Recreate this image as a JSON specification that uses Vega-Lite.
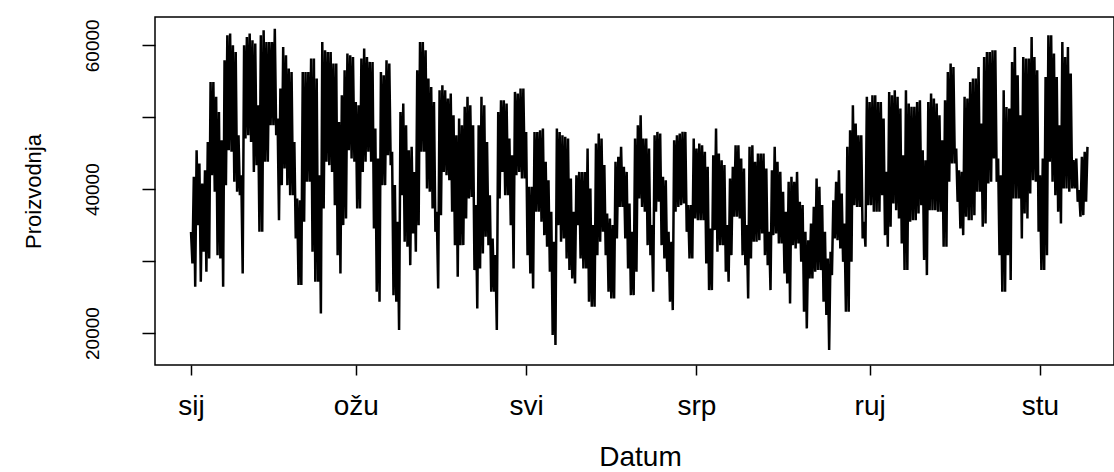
{
  "$schema": "https://vega.github.io/schema/vega-lite/v6.json",
  "width": 959,
  "height": 348,
  "autosize": "none",
  "padding": {"left": 155, "top": 17, "right": 0, "bottom": 107},
  "background": "white",
  "config": {
    "font": "Liberation Sans",
    "view": {"stroke": "black", "strokeWidth": 1.5}
  },
  "data": {
    "values": [
      {"dan":0,"proizvodnja":34070},{"dan":0.5,"proizvodnja":29670},
      {"dan":1,"proizvodnja":41710},{"dan":1.5,"proizvodnja":26430},
      {"dan":2,"proizvodnja":45420},{"dan":2.5,"proizvodnja":35000},
      {"dan":3,"proizvodnja":43570},{"dan":3.5,"proizvodnja":27130},
      {"dan":4,"proizvodnja":40790},{"dan":4.5,"proizvodnja":31300},
      {"dan":5,"proizvodnja":42640},{"dan":5.5,"proizvodnja":28520},
      {"dan":6,"proizvodnja":46570},{"dan":6.5,"proizvodnja":30370},
      {"dan":7,"proizvodnja":54910},{"dan":7.5,"proizvodnja":41940},
      {"dan":8,"proizvodnja":54910},{"dan":8.5,"proizvodnja":39630},
      {"dan":9,"proizvodnja":52830},{"dan":9.5,"proizvodnja":30830},
      {"dan":10,"proizvodnja":50740},{"dan":10.5,"proizvodnja":30370},
      {"dan":11,"proizvodnja":46800},{"dan":11.5,"proizvodnja":26430},
      {"dan":12,"proizvodnja":57920},{"dan":12.5,"proizvodnja":40560},
      {"dan":13,"proizvodnja":61390},{"dan":13.5,"proizvodnja":45420},
      {"dan":14,"proizvodnja":61620},{"dan":14.5,"proizvodnja":45190},
      {"dan":15,"proizvodnja":60000},{"dan":15.5,"proizvodnja":41020},
      {"dan":16,"proizvodnja":59080},{"dan":16.5,"proizvodnja":39630},
      {"dan":17,"proizvodnja":47500},{"dan":17.5,"proizvodnja":39160},
      {"dan":18,"proizvodnja":41940},{"dan":18.5,"proizvodnja":28290},
      {"dan":19,"proizvodnja":60000},{"dan":19.5,"proizvodnja":47030},
      {"dan":20,"proizvodnja":61160},{"dan":20.5,"proizvodnja":47500},
      {"dan":21,"proizvodnja":61620},{"dan":21.5,"proizvodnja":46570},
      {"dan":22,"proizvodnja":60690},{"dan":22.5,"proizvodnja":42400},
      {"dan":23,"proizvodnja":60230},{"dan":23.5,"proizvodnja":43340},
      {"dan":24,"proizvodnja":51670},{"dan":24.5,"proizvodnja":34070},
      {"dan":25,"proizvodnja":61390},{"dan":25.5,"proizvodnja":34070},
      {"dan":26,"proizvodnja":62080},{"dan":26.5,"proizvodnja":43800},
      {"dan":27,"proizvodnja":60460},{"dan":27.5,"proizvodnja":43800},
      {"dan":28,"proizvodnja":60460},{"dan":28.5,"proizvodnja":48890},
      {"dan":29,"proizvodnja":60460},{"dan":29.5,"proizvodnja":48890},
      {"dan":30,"proizvodnja":62310},{"dan":30.5,"proizvodnja":47500},
      {"dan":31,"proizvodnja":49810},{"dan":31.5,"proizvodnja":35690},
      {"dan":32,"proizvodnja":53980},{"dan":32.5,"proizvodnja":40560},
      {"dan":33,"proizvodnja":59770},{"dan":33.5,"proizvodnja":42870},
      {"dan":34,"proizvodnja":58610},{"dan":34.5,"proizvodnja":40560},
      {"dan":35,"proizvodnja":56760},{"dan":35.5,"proizvodnja":39160},
      {"dan":36,"proizvodnja":56300},{"dan":36.5,"proizvodnja":39160},
      {"dan":37,"proizvodnja":46570},{"dan":37.5,"proizvodnja":33150},
      {"dan":38,"proizvodnja":38700},{"dan":38.5,"proizvodnja":26670},
      {"dan":39,"proizvodnja":38470},{"dan":39.5,"proizvodnja":26670},
      {"dan":40,"proizvodnja":56300},{"dan":40.5,"proizvodnja":35460},
      {"dan":41,"proizvodnja":56300},{"dan":41.5,"proizvodnja":41020},
      {"dan":42,"proizvodnja":56300},{"dan":42.5,"proizvodnja":41020},
      {"dan":43,"proizvodnja":58150},{"dan":43.5,"proizvodnja":31300},
      {"dan":44,"proizvodnja":58150},{"dan":44.5,"proizvodnja":27130},
      {"dan":45,"proizvodnja":55370},{"dan":45.5,"proizvodnja":27130},
      {"dan":46,"proizvodnja":41940},{"dan":46.5,"proizvodnja":22730},
      {"dan":47,"proizvodnja":60460},{"dan":47.5,"proizvodnja":37310},
      {"dan":48,"proizvodnja":59310},{"dan":48.5,"proizvodnja":43800},
      {"dan":49,"proizvodnja":59080},{"dan":49.5,"proizvodnja":43340},
      {"dan":50,"proizvodnja":59080},{"dan":50.5,"proizvodnja":42400},
      {"dan":51,"proizvodnja":57460},{"dan":51.5,"proizvodnja":37780},
      {"dan":52,"proizvodnja":57460},{"dan":52.5,"proizvodnja":30830},
      {"dan":53,"proizvodnja":49350},{"dan":53.5,"proizvodnja":28290},
      {"dan":54,"proizvodnja":53060},{"dan":54.5,"proizvodnja":35000},
      {"dan":55,"proizvodnja":56530},{"dan":55.5,"proizvodnja":35930},
      {"dan":56,"proizvodnja":58840},{"dan":56.5,"proizvodnja":45420},
      {"dan":57,"proizvodnja":58610},{"dan":57.5,"proizvodnja":44260},
      {"dan":58,"proizvodnja":58380},{"dan":58.5,"proizvodnja":43800},
      {"dan":59,"proizvodnja":52130},{"dan":59.5,"proizvodnja":37310},
      {"dan":60,"proizvodnja":51670},{"dan":60.5,"proizvodnja":37310},
      {"dan":61,"proizvodnja":58150},{"dan":61.5,"proizvodnja":42400},
      {"dan":62,"proizvodnja":59540},{"dan":62.5,"proizvodnja":43800},
      {"dan":63,"proizvodnja":58380},{"dan":63.5,"proizvodnja":45190},
      {"dan":64,"proizvodnja":57690},{"dan":64.5,"proizvodnja":43800},
      {"dan":65,"proizvodnja":57690},{"dan":65.5,"proizvodnja":34540},
      {"dan":66,"proizvodnja":48430},{"dan":66.5,"proizvodnja":25740},
      {"dan":67,"proizvodnja":44260},{"dan":67.5,"proizvodnja":24350},
      {"dan":68,"proizvodnja":56300},{"dan":68.5,"proizvodnja":40560},
      {"dan":69,"proizvodnja":55830},{"dan":69.5,"proizvodnja":40560},
      {"dan":70,"proizvodnja":57920},{"dan":70.5,"proizvodnja":44720},
      {"dan":71,"proizvodnja":57460},{"dan":71.5,"proizvodnja":43340},
      {"dan":72,"proizvodnja":45190},{"dan":72.5,"proizvodnja":25270},
      {"dan":73,"proizvodnja":40560},{"dan":73.5,"proizvodnja":24350},
      {"dan":74,"proizvodnja":35460},{"dan":74.5,"proizvodnja":20420},
      {"dan":75,"proizvodnja":50740},{"dan":75.5,"proizvodnja":39160},
      {"dan":76,"proizvodnja":51900},{"dan":76.5,"proizvodnja":32680},
      {"dan":77,"proizvodnja":48890},{"dan":77.5,"proizvodnja":31990},
      {"dan":78,"proizvodnja":45420},{"dan":78.5,"proizvodnja":29440},
      {"dan":79,"proizvodnja":45880},{"dan":79.5,"proizvodnja":33840},
      {"dan":80,"proizvodnja":42400},{"dan":80.5,"proizvodnja":31300},
      {"dan":81,"proizvodnja":56530},{"dan":81.5,"proizvodnja":35000},
      {"dan":82,"proizvodnja":60460},{"dan":82.5,"proizvodnja":45190},
      {"dan":83,"proizvodnja":60460},{"dan":83.5,"proizvodnja":45190},
      {"dan":84,"proizvodnja":59310},{"dan":84.5,"proizvodnja":40100},
      {"dan":85,"proizvodnja":55370},{"dan":85.5,"proizvodnja":39630},
      {"dan":86,"proizvodnja":54210},{"dan":86.5,"proizvodnja":37310},
      {"dan":87,"proizvodnja":52130},{"dan":87.5,"proizvodnja":34070},
      {"dan":88,"proizvodnja":36850},{"dan":88.5,"proizvodnja":26200},
      {"dan":89,"proizvodnja":53750},{"dan":89.5,"proizvodnja":36390},
      {"dan":90,"proizvodnja":54440},{"dan":90.5,"proizvodnja":42400},
      {"dan":91,"proizvodnja":53750},{"dan":91.5,"proizvodnja":41940},
      {"dan":92,"proizvodnja":52590},{"dan":92.5,"proizvodnja":41250},
      {"dan":93,"proizvodnja":53290},{"dan":93.5,"proizvodnja":36850},
      {"dan":94,"proizvodnja":50280},{"dan":94.5,"proizvodnja":32220},
      {"dan":95,"proizvodnja":47500},{"dan":95.5,"proizvodnja":27820},
      {"dan":96,"proizvodnja":49810},{"dan":96.5,"proizvodnja":32220},
      {"dan":97,"proizvodnja":48890},{"dan":97.5,"proizvodnja":32220},
      {"dan":98,"proizvodnja":51440},{"dan":98.5,"proizvodnja":35920},
      {"dan":99,"proizvodnja":52830},{"dan":99.5,"proizvodnja":38700},
      {"dan":100,"proizvodnja":51670},{"dan":100.5,"proizvodnja":38930},
      {"dan":101,"proizvodnja":48890},{"dan":101.5,"proizvodnja":28750},
      {"dan":102,"proizvodnja":37780},{"dan":102.5,"proizvodnja":23420},
      {"dan":103,"proizvodnja":48890},{"dan":103.5,"proizvodnja":28980},
      {"dan":104,"proizvodnja":52830},{"dan":104.5,"proizvodnja":31060},
      {"dan":105,"proizvodnja":51670},{"dan":105.5,"proizvodnja":33380},
      {"dan":106,"proizvodnja":46570},{"dan":106.5,"proizvodnja":32220},
      {"dan":107,"proizvodnja":39160},{"dan":107.5,"proizvodnja":25740},
      {"dan":108,"proizvodnja":33150},{"dan":108.5,"proizvodnja":25740},
      {"dan":109,"proizvodnja":30830},{"dan":109.5,"proizvodnja":20420},
      {"dan":110,"proizvodnja":50740},{"dan":110.5,"proizvodnja":38700},
      {"dan":111,"proizvodnja":52360},{"dan":111.5,"proizvodnja":42400},
      {"dan":112,"proizvodnja":52360},{"dan":112.5,"proizvodnja":39160},
      {"dan":113,"proizvodnja":51900},{"dan":113.5,"proizvodnja":39160},
      {"dan":114,"proizvodnja":47030},{"dan":114.5,"proizvodnja":35000},
      {"dan":115,"proizvodnja":44720},{"dan":115.5,"proizvodnja":28980},
      {"dan":116,"proizvodnja":53520},{"dan":116.5,"proizvodnja":41940},
      {"dan":117,"proizvodnja":53290},{"dan":117.5,"proizvodnja":42400},
      {"dan":118,"proizvodnja":53980},{"dan":118.5,"proizvodnja":41480},
      {"dan":119,"proizvodnja":53980},{"dan":119.5,"proizvodnja":41480},
      {"dan":120,"proizvodnja":47960},{"dan":120.5,"proizvodnja":30830},
      {"dan":121,"proizvodnja":40330},{"dan":121.5,"proizvodnja":28290},
      {"dan":122,"proizvodnja":40330},{"dan":122.5,"proizvodnja":26200},
      {"dan":123,"proizvodnja":47960},{"dan":123.5,"proizvodnja":36850},
      {"dan":124,"proizvodnja":47960},{"dan":124.5,"proizvodnja":36850},
      {"dan":125,"proizvodnja":48190},{"dan":125.5,"proizvodnja":35460},
      {"dan":126,"proizvodnja":48430},{"dan":126.5,"proizvodnja":33610},
      {"dan":127,"proizvodnja":43800},{"dan":127.5,"proizvodnja":31990},
      {"dan":128,"proizvodnja":41250},{"dan":128.5,"proizvodnja":28520},
      {"dan":129,"proizvodnja":36850},{"dan":129.5,"proizvodnja":19720},
      {"dan":130,"proizvodnja":32680},{"dan":130.5,"proizvodnja":18330},
      {"dan":131,"proizvodnja":48430},{"dan":131.5,"proizvodnja":35000},
      {"dan":132,"proizvodnja":47960},{"dan":132.5,"proizvodnja":32680},
      {"dan":133,"proizvodnja":47500},{"dan":133.5,"proizvodnja":33150},
      {"dan":134,"proizvodnja":47270},{"dan":134.5,"proizvodnja":30370},
      {"dan":135,"proizvodnja":47030},{"dan":135.5,"proizvodnja":28750},
      {"dan":136,"proizvodnja":41480},{"dan":136.5,"proizvodnja":27590},
      {"dan":137,"proizvodnja":36850},{"dan":137.5,"proizvodnja":26900},
      {"dan":138,"proizvodnja":41940},{"dan":138.5,"proizvodnja":35000},
      {"dan":139,"proizvodnja":42400},{"dan":139.5,"proizvodnja":30370},
      {"dan":140,"proizvodnja":42400},{"dan":140.5,"proizvodnja":28980},
      {"dan":141,"proizvodnja":42400},{"dan":141.5,"proizvodnja":28980},
      {"dan":142,"proizvodnja":45650},{"dan":142.5,"proizvodnja":24350},
      {"dan":143,"proizvodnja":40100},{"dan":143.5,"proizvodnja":23650},
      {"dan":144,"proizvodnja":35000},{"dan":144.5,"proizvodnja":23650},
      {"dan":145,"proizvodnja":46340},{"dan":145.5,"proizvodnja":30830},
      {"dan":146,"proizvodnja":47730},{"dan":146.5,"proizvodnja":32680},
      {"dan":147,"proizvodnja":47030},{"dan":147.5,"proizvodnja":34070},
      {"dan":148,"proizvodnja":43340},{"dan":148.5,"proizvodnja":30830},
      {"dan":149,"proizvodnja":36620},{"dan":149.5,"proizvodnja":25740},
      {"dan":150,"proizvodnja":35920},{"dan":150.5,"proizvodnja":24810},
      {"dan":151,"proizvodnja":35000},{"dan":151.5,"proizvodnja":24810},
      {"dan":152,"proizvodnja":43800},{"dan":152.5,"proizvodnja":33150},
      {"dan":153,"proizvodnja":44490},{"dan":153.5,"proizvodnja":37540},
      {"dan":154,"proizvodnja":45880},{"dan":154.5,"proizvodnja":37540},
      {"dan":155,"proizvodnja":43100},{"dan":155.5,"proizvodnja":33150},
      {"dan":156,"proizvodnja":42400},{"dan":156.5,"proizvodnja":28980},
      {"dan":157,"proizvodnja":38010},{"dan":157.5,"proizvodnja":25270},
      {"dan":158,"proizvodnja":34070},{"dan":158.5,"proizvodnja":25270},
      {"dan":159,"proizvodnja":47030},{"dan":159.5,"proizvodnja":28520},
      {"dan":160,"proizvodnja":48890},{"dan":160.5,"proizvodnja":38700},
      {"dan":161,"proizvodnja":50280},{"dan":161.5,"proizvodnja":37540},
      {"dan":162,"proizvodnja":47030},{"dan":162.5,"proizvodnja":36850},
      {"dan":163,"proizvodnja":47030},{"dan":163.5,"proizvodnja":32220},
      {"dan":164,"proizvodnja":45650},{"dan":164.5,"proizvodnja":30830},
      {"dan":165,"proizvodnja":35000},{"dan":165.5,"proizvodnja":25740},
      {"dan":166,"proizvodnja":47500},{"dan":166.5,"proizvodnja":36850},
      {"dan":167,"proizvodnja":47960},{"dan":167.5,"proizvodnja":38240},
      {"dan":168,"proizvodnja":47730},{"dan":168.5,"proizvodnja":32220},
      {"dan":169,"proizvodnja":41710},{"dan":169.5,"proizvodnja":30370},
      {"dan":170,"proizvodnja":41250},{"dan":170.5,"proizvodnja":28520},
      {"dan":171,"proizvodnja":34070},{"dan":171.5,"proizvodnja":24350},
      {"dan":172,"proizvodnja":32680},{"dan":172.5,"proizvodnja":23190},
      {"dan":173,"proizvodnja":46800},{"dan":173.5,"proizvodnja":36850},
      {"dan":174,"proizvodnja":47500},{"dan":174.5,"proizvodnja":37540},
      {"dan":175,"proizvodnja":47730},{"dan":175.5,"proizvodnja":37780},
      {"dan":176,"proizvodnja":47960},{"dan":176.5,"proizvodnja":38010},
      {"dan":177,"proizvodnja":47960},{"dan":177.5,"proizvodnja":34070},
      {"dan":178,"proizvodnja":37780},{"dan":178.5,"proizvodnja":30370},
      {"dan":179,"proizvodnja":37780},{"dan":179.5,"proizvodnja":30370},
      {"dan":180,"proizvodnja":47030},{"dan":180.5,"proizvodnja":35920},
      {"dan":181,"proizvodnja":45650},{"dan":181.5,"proizvodnja":35690},
      {"dan":182,"proizvodnja":46340},{"dan":182.5,"proizvodnja":35690},
      {"dan":183,"proizvodnja":46110},{"dan":183.5,"proizvodnja":35690},
      {"dan":184,"proizvodnja":45190},{"dan":184.5,"proizvodnja":29670},
      {"dan":185,"proizvodnja":43100},{"dan":185.5,"proizvodnja":25970},
      {"dan":186,"proizvodnja":34540},{"dan":186.5,"proizvodnja":25970},
      {"dan":187,"proizvodnja":44720},{"dan":187.5,"proizvodnja":34310},
      {"dan":188,"proizvodnja":48430},{"dan":188.5,"proizvodnja":31300},
      {"dan":189,"proizvodnja":44950},{"dan":189.5,"proizvodnja":32220},
      {"dan":190,"proizvodnja":44030},{"dan":190.5,"proizvodnja":32220},
      {"dan":191,"proizvodnja":43340},{"dan":191.5,"proizvodnja":28520},
      {"dan":192,"proizvodnja":35000},{"dan":192.5,"proizvodnja":27130},
      {"dan":193,"proizvodnja":41480},{"dan":193.5,"proizvodnja":30830},
      {"dan":194,"proizvodnja":43100},{"dan":194.5,"proizvodnja":36160},
      {"dan":195,"proizvodnja":46110},{"dan":195.5,"proizvodnja":36160},
      {"dan":196,"proizvodnja":46110},{"dan":196.5,"proizvodnja":35920},
      {"dan":197,"proizvodnja":44260},{"dan":197.5,"proizvodnja":30830},
      {"dan":198,"proizvodnja":42870},{"dan":198.5,"proizvodnja":29440},
      {"dan":199,"proizvodnja":35000},{"dan":199.5,"proizvodnja":24810},
      {"dan":200,"proizvodnja":45880},{"dan":200.5,"proizvodnja":30370},
      {"dan":201,"proizvodnja":46110},{"dan":201.5,"proizvodnja":32680},
      {"dan":202,"proizvodnja":43800},{"dan":202.5,"proizvodnja":32680},
      {"dan":203,"proizvodnja":44950},{"dan":203.5,"proizvodnja":32910},
      {"dan":204,"proizvodnja":44950},{"dan":204.5,"proizvodnja":33840},
      {"dan":205,"proizvodnja":44950},{"dan":205.5,"proizvodnja":30830},
      {"dan":206,"proizvodnja":42870},{"dan":206.5,"proizvodnja":29440},
      {"dan":207,"proizvodnja":34070},{"dan":207.5,"proizvodnja":25970},
      {"dan":208,"proizvodnja":42640},{"dan":208.5,"proizvodnja":33610},
      {"dan":209,"proizvodnja":45880},{"dan":209.5,"proizvodnja":33840},
      {"dan":210,"proizvodnja":43800},{"dan":210.5,"proizvodnja":32450},
      {"dan":211,"proizvodnja":42400},{"dan":211.5,"proizvodnja":32450},
      {"dan":212,"proizvodnja":39630},{"dan":212.5,"proizvodnja":28290},
      {"dan":213,"proizvodnja":36850},{"dan":213.5,"proizvodnja":26900},
      {"dan":214,"proizvodnja":41020},{"dan":214.5,"proizvodnja":24120},
      {"dan":215,"proizvodnja":41710},{"dan":215.5,"proizvodnja":32220},
      {"dan":216,"proizvodnja":41020},{"dan":216.5,"proizvodnja":31760},
      {"dan":217,"proizvodnja":42400},{"dan":217.5,"proizvodnja":32450},
      {"dan":218,"proizvodnja":38240},{"dan":218.5,"proizvodnja":29900},
      {"dan":219,"proizvodnja":37780},{"dan":219.5,"proizvodnja":22960},
      {"dan":220,"proizvodnja":34070},{"dan":220.5,"proizvodnja":20650},
      {"dan":221,"proizvodnja":32910},{"dan":221.5,"proizvodnja":27590},
      {"dan":222,"proizvodnja":35230},{"dan":222.5,"proizvodnja":27590},
      {"dan":223,"proizvodnja":37540},{"dan":223.5,"proizvodnja":28520},
      {"dan":224,"proizvodnja":41480},{"dan":224.5,"proizvodnja":28750},
      {"dan":225,"proizvodnja":40330},{"dan":225.5,"proizvodnja":28750},
      {"dan":226,"proizvodnja":37780},{"dan":226.5,"proizvodnja":24350},
      {"dan":227,"proizvodnja":34070},{"dan":227.5,"proizvodnja":22500},
      {"dan":228,"proizvodnja":30370},{"dan":228.5,"proizvodnja":17640},
      {"dan":229,"proizvodnja":31300},{"dan":229.5,"proizvodnja":28050},
      {"dan":230,"proizvodnja":38470},{"dan":230.5,"proizvodnja":33150},
      {"dan":231,"proizvodnja":41020},{"dan":231.5,"proizvodnja":32910},
      {"dan":232,"proizvodnja":42640},{"dan":232.5,"proizvodnja":31760},
      {"dan":233,"proizvodnja":39400},{"dan":233.5,"proizvodnja":29900},
      {"dan":234,"proizvodnja":35230},{"dan":234.5,"proizvodnja":22960},
      {"dan":235,"proizvodnja":45880},{"dan":235.5,"proizvodnja":22960},
      {"dan":236,"proizvodnja":48190},{"dan":236.5,"proizvodnja":29900},
      {"dan":237,"proizvodnja":51670},{"dan":237.5,"proizvodnja":37780},
      {"dan":238,"proizvodnja":49120},{"dan":238.5,"proizvodnja":37540},
      {"dan":239,"proizvodnja":47500},{"dan":239.5,"proizvodnja":37540},
      {"dan":240,"proizvodnja":47500},{"dan":240.5,"proizvodnja":33150},
      {"dan":241,"proizvodnja":35460},{"dan":241.5,"proizvodnja":31990},
      {"dan":242,"proizvodnja":52830},{"dan":242.5,"proizvodnja":37780},
      {"dan":243,"proizvodnja":52130},{"dan":243.5,"proizvodnja":37780},
      {"dan":244,"proizvodnja":53060},{"dan":244.5,"proizvodnja":36850},
      {"dan":245,"proizvodnja":53060},{"dan":245.5,"proizvodnja":36850},
      {"dan":246,"proizvodnja":52130},{"dan":246.5,"proizvodnja":36850},
      {"dan":247,"proizvodnja":52130},{"dan":247.5,"proizvodnja":39160},
      {"dan":248,"proizvodnja":49810},{"dan":248.5,"proizvodnja":33610},
      {"dan":249,"proizvodnja":42400},{"dan":249.5,"proizvodnja":31990},
      {"dan":250,"proizvodnja":53520},{"dan":250.5,"proizvodnja":34770},
      {"dan":251,"proizvodnja":53060},{"dan":251.5,"proizvodnja":38010},
      {"dan":252,"proizvodnja":53750},{"dan":252.5,"proizvodnja":37080},
      {"dan":253,"proizvodnja":52830},{"dan":253.5,"proizvodnja":35920},
      {"dan":254,"proizvodnja":51200},{"dan":254.5,"proizvodnja":32450},
      {"dan":255,"proizvodnja":44720},{"dan":255.5,"proizvodnja":28750},
      {"dan":256,"proizvodnja":53750},{"dan":256.5,"proizvodnja":28750},
      {"dan":257,"proizvodnja":51900},{"dan":257.5,"proizvodnja":35460},
      {"dan":258,"proizvodnja":51440},{"dan":258.5,"proizvodnja":35690},
      {"dan":259,"proizvodnja":51440},{"dan":259.5,"proizvodnja":35690},
      {"dan":260,"proizvodnja":52130},{"dan":260.5,"proizvodnja":36620},
      {"dan":261,"proizvodnja":52360},{"dan":261.5,"proizvodnja":37780},
      {"dan":262,"proizvodnja":45420},{"dan":262.5,"proizvodnja":30140},
      {"dan":263,"proizvodnja":44030},{"dan":263.5,"proizvodnja":28050},
      {"dan":264,"proizvodnja":52130},{"dan":264.5,"proizvodnja":37080},
      {"dan":265,"proizvodnja":53290},{"dan":265.5,"proizvodnja":37080},
      {"dan":266,"proizvodnja":52590},{"dan":266.5,"proizvodnja":37080},
      {"dan":267,"proizvodnja":51900},{"dan":267.5,"proizvodnja":36850},
      {"dan":268,"proizvodnja":50280},{"dan":268.5,"proizvodnja":36850},
      {"dan":269,"proizvodnja":46800},{"dan":269.5,"proizvodnja":31990},
      {"dan":270,"proizvodnja":52360},{"dan":270.5,"proizvodnja":31990},
      {"dan":271,"proizvodnja":56300},{"dan":271.5,"proizvodnja":41020},
      {"dan":272,"proizvodnja":57460},{"dan":272.5,"proizvodnja":43570},
      {"dan":273,"proizvodnja":56990},{"dan":273.5,"proizvodnja":43570},
      {"dan":274,"proizvodnja":45650},{"dan":274.5,"proizvodnja":38240},
      {"dan":275,"proizvodnja":42640},{"dan":275.5,"proizvodnja":34540},
      {"dan":276,"proizvodnja":42400},{"dan":276.5,"proizvodnja":33610},
      {"dan":277,"proizvodnja":52830},{"dan":277.5,"proizvodnja":36160},
      {"dan":278,"proizvodnja":52590},{"dan":278.5,"proizvodnja":35690},
      {"dan":279,"proizvodnja":54910},{"dan":279.5,"proizvodnja":35690},
      {"dan":280,"proizvodnja":55370},{"dan":280.5,"proizvodnja":36390},
      {"dan":281,"proizvodnja":55370},{"dan":281.5,"proizvodnja":39630},
      {"dan":282,"proizvodnja":56990},{"dan":282.5,"proizvodnja":39630},
      {"dan":283,"proizvodnja":49120},{"dan":283.5,"proizvodnja":34770},
      {"dan":284,"proizvodnja":58380},{"dan":284.5,"proizvodnja":35230},
      {"dan":285,"proizvodnja":59080},{"dan":285.5,"proizvodnja":40790},
      {"dan":286,"proizvodnja":59080},{"dan":286.5,"proizvodnja":41020},
      {"dan":287,"proizvodnja":59310},{"dan":287.5,"proizvodnja":44260},
      {"dan":288,"proizvodnja":59310},{"dan":288.5,"proizvodnja":41020},
      {"dan":289,"proizvodnja":44260},{"dan":289.5,"proizvodnja":30830},
      {"dan":290,"proizvodnja":41940},{"dan":290.5,"proizvodnja":25740},
      {"dan":291,"proizvodnja":53750},{"dan":291.5,"proizvodnja":25740},
      {"dan":292,"proizvodnja":51430},{"dan":292.5,"proizvodnja":30830},
      {"dan":293,"proizvodnja":51200},{"dan":293.5,"proizvodnja":27360},
      {"dan":294,"proizvodnja":57690},{"dan":294.5,"proizvodnja":38700},
      {"dan":295,"proizvodnja":59770},{"dan":295.5,"proizvodnja":38700},
      {"dan":296,"proizvodnja":55830},{"dan":296.5,"proizvodnja":38700},
      {"dan":297,"proizvodnja":50280},{"dan":297.5,"proizvodnja":33150},
      {"dan":298,"proizvodnja":58380},{"dan":298.5,"proizvodnja":36620},
      {"dan":299,"proizvodnja":58150},{"dan":299.5,"proizvodnja":35920},
      {"dan":300,"proizvodnja":58150},{"dan":300.5,"proizvodnja":39400},
      {"dan":301,"proizvodnja":61160},{"dan":301.5,"proizvodnja":41250},
      {"dan":302,"proizvodnja":58380},{"dan":302.5,"proizvodnja":41020},
      {"dan":303,"proizvodnja":56530},{"dan":303.5,"proizvodnja":34070},
      {"dan":304,"proizvodnja":41940},{"dan":304.5,"proizvodnja":28750},
      {"dan":305,"proizvodnja":44260},{"dan":305.5,"proizvodnja":28750},
      {"dan":306,"proizvodnja":55600},{"dan":306.5,"proizvodnja":30830},
      {"dan":307,"proizvodnja":61390},{"dan":307.5,"proizvodnja":43800},
      {"dan":308,"proizvodnja":61390},{"dan":308.5,"proizvodnja":41020},
      {"dan":309,"proizvodnja":58840},{"dan":309.5,"proizvodnja":39160},
      {"dan":310,"proizvodnja":55600},{"dan":310.5,"proizvodnja":36850},
      {"dan":311,"proizvodnja":48890},{"dan":311.5,"proizvodnja":35230},
      {"dan":312,"proizvodnja":60460},{"dan":312.5,"proizvodnja":40100},
      {"dan":313,"proizvodnja":58380},{"dan":313.5,"proizvodnja":40100},
      {"dan":314,"proizvodnja":59770},{"dan":314.5,"proizvodnja":39630},
      {"dan":315,"proizvodnja":56060},{"dan":315.5,"proizvodnja":40100},
      {"dan":316,"proizvodnja":44030},{"dan":316.5,"proizvodnja":40100},
      {"dan":317,"proizvodnja":44260},{"dan":317.5,"proizvodnja":38240},
      {"dan":318,"proizvodnja":39860},{"dan":318.5,"proizvodnja":36160},
      {"dan":319,"proizvodnja":44490},{"dan":319.5,"proizvodnja":36390},
      {"dan":320,"proizvodnja":45190},{"dan":320.5,"proizvodnja":38240},
      {"dan":321,"proizvodnja":45880}
    ]
  },
  "mark": {"type": "line", "color": "black", "strokeWidth": 2.5},
  "encoding": {
    "x": {
      "field": "dan",
      "type": "quantitative",
      "scale": {"domain": [-12.9, 330.5], "nice": false, "zero": false},
      "axis": {
        "values": [0, 59, 120, 181, 243, 304],
        "labelExpr": "datum.value == 0 ? 'sij' : datum.value == 59 ? 'ožu' : datum.value == 120 ? 'svi' : datum.value == 181 ? 'srp' : datum.value == 243 ? 'ruj' : 'stu'",
        "grid": false,
        "domain": false,
        "ticks": true,
        "tickColor": "black",
        "tickSize": 10,
        "tickWidth": 1.5,
        "labelFontSize": 28,
        "labelColor": "black",
        "labelBaseline": "alphabetic",
        "labelPadding": 39,
        "labelFlush": false,
        "labelOverlap": false,
        "title": "Datum",
        "titleFontSize": 28,
        "titleFontWeight": "normal",
        "titleColor": "black",
        "titleX": 485,
        "titleY": 100,
        "titleAlign": "center",
        "titleBaseline": "alphabetic"
      }
    },
    "y": {
      "field": "proizvodnja",
      "type": "quantitative",
      "scale": {"domain": [15560, 63930], "nice": false, "zero": false},
      "axis": {
        "values": [20000, 30000, 40000, 50000, 60000],
        "format": "d",
        "labelExpr": "datum.value % 20000 == 0 ? datum.label : ''",
        "grid": false,
        "domain": false,
        "tickColor": "black",
        "tickSize": 13,
        "tickWidth": 1.5,
        "labelFontSize": 19,
        "labelColor": "black",
        "labelAngle": 270,
        "labelAlign": "center",
        "labelBaseline": "middle",
        "labelPadding": 50,
        "labelOverlap": false,
        "title": "Proizvodnja",
        "titleFontSize": 22,
        "titleFontWeight": "normal",
        "titleColor": "black",
        "titleAngle": 270,
        "titleX": -122,
        "titleY": 174,
        "titleAlign": "center",
        "titleBaseline": "middle"
      }
    }
  }
}
